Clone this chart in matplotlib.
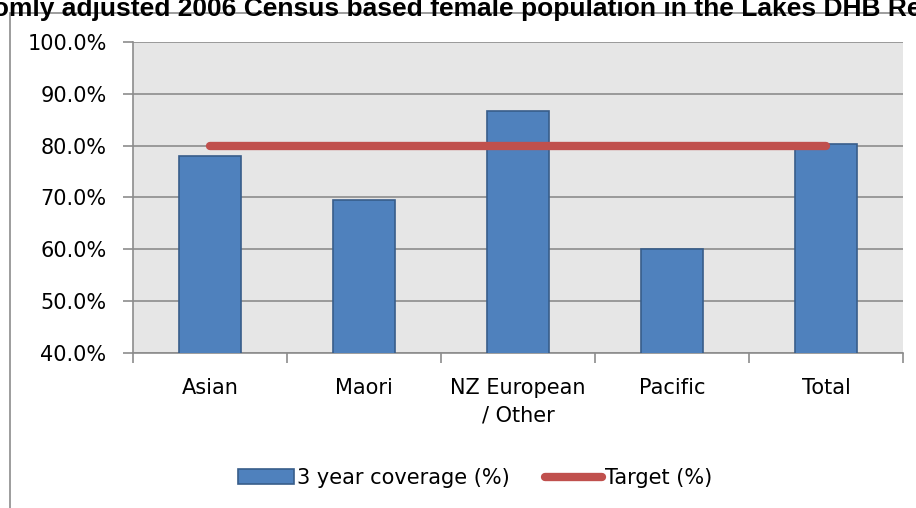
import matplotlib
matplotlib.use("Agg")
import matplotlib.pyplot as plt
from matplotlib.patches import Rectangle
from matplotlib.ticker import FuncFormatter

# data
categories = ["Asian", "Maori", "NZ European\n/ Other", "Pacific", "Total"]
coverage = [78.0, 69.5, 86.7, 60.1, 80.3]
target = [80.0, 80.0, 80.0, 80.0, 80.0]
title = "Randomly adjusted 2006 Census based female population in the Lakes DHB Region"

plt.rcParams['font.family'] = ['DejaVu Sans']

fig = plt.figure(figsize=(9.16, 5.08), dpi=100)

# outer chart frame (cropped on right and bottom)
fig.patches.append(Rectangle((10/916, -0.1), 2.0, (508 - 13)/508 + 0.1,
                             transform=fig.transFigure, fill=False,
                             edgecolor="#8c8c8c", linewidth=1.2))

fig.text(452/916, 1 - 9/508, title, ha="center", va="center",
         fontsize=19, fontweight="bold", family="Liberation Sans")

ax = fig.add_axes([133/916, 155/508, 770/916, 311/508])
ax.set_facecolor("#e6e6e6")

x = range(len(categories))
ax.bar(x, coverage, width=0.4, color="#4f81bd", edgecolor="#385d8a",
       linewidth=1.2, zorder=3, label="3 year coverage (%)")
ax.plot(x, target, color="#c0504d", linewidth=6, solid_capstyle="round",
        zorder=4, label="Target (%)")

ax.set_xlim(-0.5, len(categories) - 0.5)
ax.set_ylim(40, 100)
ax.set_yticks(range(40, 101, 10))
ax.yaxis.set_major_formatter(FuncFormatter(lambda v, p: "%.1f%%" % v))
ax.yaxis.grid(True, color="#8c8c8c", linewidth=1.2, zorder=1)
ax.set_axisbelow(True)

ax.set_xticks([i + 0.5 for i in range(-1, len(categories))], minor=False)
ax.set_xticklabels([])
ax.set_xticks(list(x), minor=True)
ax.set_xticklabels(categories, minor=True, linespacing=1.45)
ax.tick_params(axis="x", which="minor", length=0, pad=18, labelsize=15)
ax.tick_params(axis="x", which="major", length=7, color="#8c8c8c", width=1.2)
ax.tick_params(axis="y", length=7, color="#8c8c8c", width=1.2, labelsize=15, pad=12)

for s in ["top", "right"]:
    ax.spines[s].set_visible(False)
for s in ["left", "bottom"]:
    ax.spines[s].set_color("#8c8c8c")
    ax.spines[s].set_linewidth(1.2)

handles, labels = ax.get_legend_handles_labels()
order = [labels.index("3 year coverage (%)"), labels.index("Target (%)")]
fig.legend([handles[i] for i in order], [labels[i] for i in order],
           loc="center", bbox_to_anchor=(475/916, 1 - 478/508), ncol=2,
           frameon=False, fontsize=15, handlelength=2.7, handleheight=0.7,
           handletextpad=0.15, columnspacing=1.7)

fig.savefig("out.png", dpi=100)
